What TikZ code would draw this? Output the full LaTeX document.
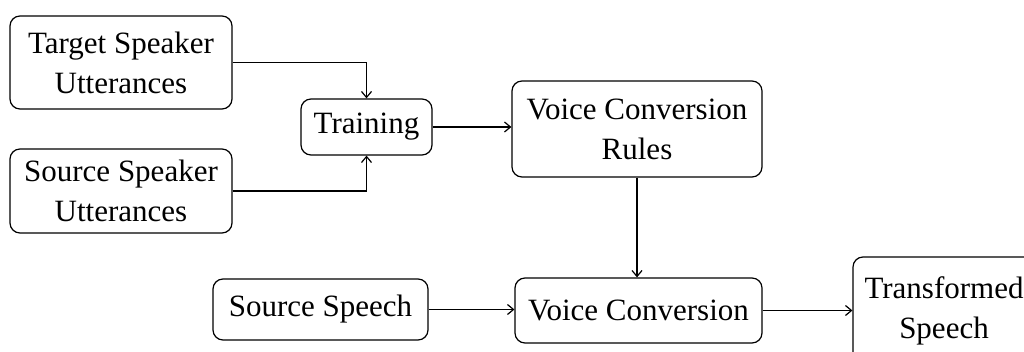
\documentclass[tikz,border=0pt]{standalone}
\usepackage{fontspec}
\setmainfont{Liberation Serif}
\usetikzlibrary{arrows.meta, positioning}

\tikzset{
    block/.style={draw, line width=1.2pt, rounded corners=10pt, align=center,
        font=\fontsize{31}{40}\selectfont, inner sep=0pt},
    flow/.style={-{Straight Barb[length=6pt, width=10pt]}, line width=1.2pt}
}

\begin{document}
\begin{tikzpicture}[x=1pt, y=1pt]
                    \path[use as bounding box, clip] (0, 0) rectangle (1024, 352);

                    \node[block, minimum width=222, minimum height=93] (tsu) at (121, 289.5) {Target Speaker\\Utterances};
                    \node[block, minimum width=222, minimum height=84] (ssu) at (121, 161) {Source Speaker\\Utterances};
                    \node[block, minimum width=131, minimum height=56] (train) at (366.5, 225) {Training};
                    \node[block, minimum width=250, minimum height=96] (rules) at (637, 223) {Voice Conversion\\Rules};
                    \node[block, minimum width=215, minimum height=61] (src) at (320.5, 42.5) {Source Speech};
                    \node[block, minimum width=247, minimum height=65] (conv) at (638.5, 41.5) {Voice Conversion};
                    \node[block, minimum width=182, minimum height=108] (out) at (944, 41) {Transformed\\Speech};

                    \draw[flow] (tsu.east) -| (train.north);
                    \draw[flow] (ssu.east) -| (train.south);
                    \draw[flow] (train) -- (train -| rules.west);
                    \draw[flow] (rules.south) -- (rules.south |- conv.north);
                    \draw[flow] (src) -- (src -| conv.west);
                    \draw[flow] (conv) -- (conv -| out.west);
                \end{tikzpicture}
\end{document}
